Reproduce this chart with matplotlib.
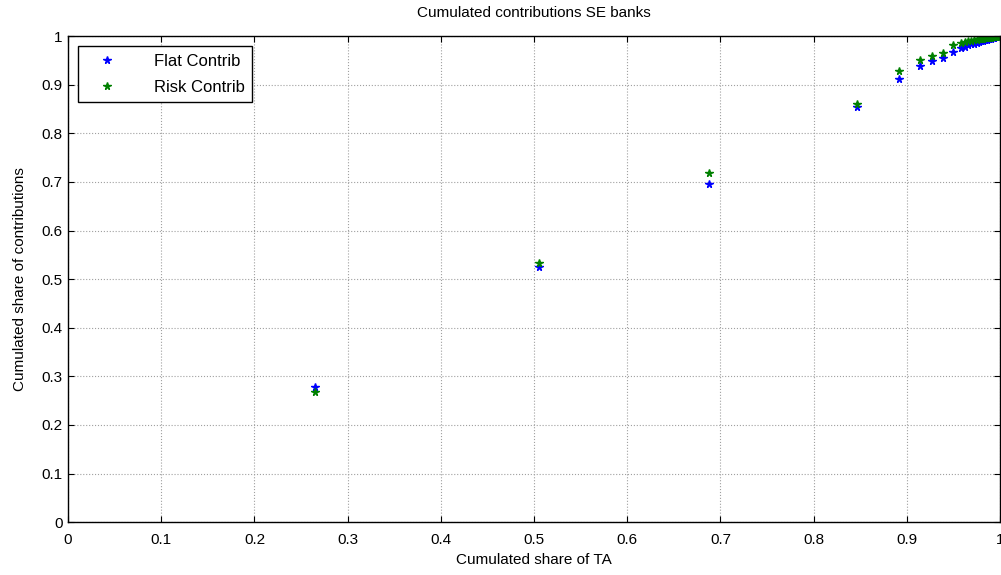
# cumulated contributions of SE banks, flat vs risk-based
import matplotlib
matplotlib.use("Agg")
import matplotlib.pyplot as plt
import numpy as np

plt.rcParams['font.family'] = ['Liberation Sans', 'DejaVu Sans']

# share of total assets (x) and share of contributions (y)
share_ta = [0.265, 0.505, 0.688, 0.847, 0.892, 0.914, 0.927, 0.939, 0.950, 0.958,
            0.962, 0.966, 0.969, 0.972, 0.975, 0.978, 0.980, 0.982, 0.984, 0.986,
            0.988, 0.990, 0.992, 0.994, 0.996, 0.998, 1.000]
flat_contrib = [0.278, 0.525, 0.695, 0.854, 0.911, 0.938, 0.949, 0.955, 0.967, 0.975,
                0.978, 0.981, 0.983, 0.985, 0.987, 0.989, 0.990, 0.991, 0.992, 0.993,
                0.994, 0.995, 0.996, 0.997, 0.998, 0.999, 1.000]
risk_contrib = [0.267, 0.533, 0.718, 0.860, 0.928, 0.951, 0.959, 0.965, 0.981, 0.986,
                0.988, 0.990, 0.991, 0.992, 0.993, 0.994, 0.995, 0.995, 0.996, 0.996,
                0.997, 0.997, 0.998, 0.998, 0.999, 0.999, 1.000]

fig = plt.figure(figsize=(10.01, 5.75), dpi=100)
ax = fig.add_axes([0.068, 0.092, 0.931, 0.845])

ax.plot(share_ta, flat_contrib, '*', color=(0, 0, 1), markersize=5.5, label='Flat Contrib')
ax.plot(share_ta, risk_contrib, '*', color=(0, 0.5, 0), markersize=5.5, label='Risk Contrib')

ax.set_xlim(0, 1)
ax.set_ylim(0, 1)
ax.set_xticks(np.arange(0, 1.01, 0.1))
ax.set_yticks(np.arange(0, 1.01, 0.1))
ax.set_xticklabels(['0', '0.1', '0.2', '0.3', '0.4', '0.5', '0.6', '0.7', '0.8', '0.9', '1'])
ax.set_yticklabels(['0', '0.1', '0.2', '0.3', '0.4', '0.5', '0.6', '0.7', '0.8', '0.9', '1'])
ax.grid(True, color='#a0a0a0', linestyle=':', linewidth=0.8)
ax.tick_params(direction='in', top=True, right=True, labelsize=11, length=4)
ax.tick_params(axis='x', pad=8)
ax.tick_params(axis='y', pad=4)
for s in ax.spines.values():
    s.set_linewidth(1.0)

ax.set_title('Cumulated contributions SE banks', fontsize=11, pad=14)
ax.set_xlabel('Cumulated share of TA', fontsize=11, labelpad=4)
ax.set_ylabel('Cumulated share of contributions', fontsize=11, labelpad=10)

leg = ax.legend(loc='upper left', fontsize=12, fancybox=False, framealpha=1,
                edgecolor='black', borderaxespad=0.6, handlelength=2.6,
                handletextpad=1.5, labelspacing=0.65, borderpad=0.45)
leg.get_frame().set_linewidth(1.0)

fig.savefig('out.png', dpi=100)
